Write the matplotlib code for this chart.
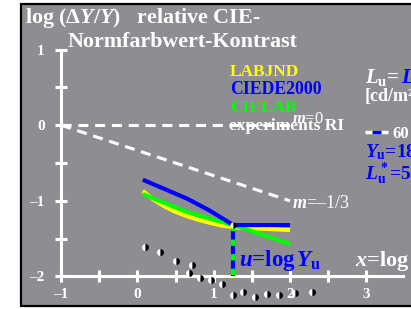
import numpy as np
import matplotlib
matplotlib.use('Agg')
import matplotlib.pyplot as plt
from matplotlib.patches import Rectangle

# ---------------- data ----------------
xticks = [-1, -0.5, 0, 0.5, 1, 1.5, 2, 2.5, 3]
xticklabels = ['–1', '', '0', '', '1', '', '2', '', '3']
yticks = [-2, -1.5, -1, -0.5, 0, 0.5, 1]
yticklabels = ['–2', '', '–1', '', '0', '', '1']

Y_u = 18
u_val = np.log10(Y_u)

labjnd_x = [0.07, 0.2, 0.34, 0.5, 0.645, 0.8, 0.95, 1.1, 1.255, 2.0]
labjnd_y = [-0.87, -0.975, -1.065, -1.145, -1.2, -1.25, -1.29, -1.325, -1.35, -1.385]
ciede_x = [0.07, 0.36, 0.65, 0.95, 1.255, 2.0]
ciede_y = [-0.72, -0.845, -0.97, -1.13, -1.32, -1.32]
cielab_x = [0.07, 0.36, 0.645, 0.95, 1.255, 2.0]
cielab_y = [-0.91, -1.03, -1.145, -1.235, -1.32, -1.57]

exp_x = [0.098, 0.295, 0.505, 0.710, 0.679, 0.819, 0.963, 1.111,
         1.248, 1.387, 1.540, 1.693, 1.858, 2.064, 2.283]
exp_y = [-1.614, -1.672, -1.791, -1.848, -1.950, -2.024, -2.046, -2.099,
         -2.245, -2.201, -2.267, -2.235, -2.245, -2.222, -2.201]

ref_x = [-1, 2]
slopes = [0, -1/3]

GRAY = '#8e8e92'

plt.rcParams['font.family'] = ['Liberation Serif', 'DejaVu Serif']
plt.rcParams['font.weight'] = 'bold'
plt.rcParams['mathtext.fontset'] = 'custom'
plt.rcParams['mathtext.rm'] = 'Liberation Serif:bold'
plt.rcParams['mathtext.it'] = 'Liberation Serif:italic:bold'
plt.rcParams['mathtext.bf'] = 'Liberation Serif:bold'

W, H = 411, 309
fig = plt.figure(figsize=(W / 100, H / 100), dpi=100, facecolor='white')
ax = fig.add_axes([0, 0, 1, 1])
ax.set_facecolor('none')
ax.set_xlim(-1.802, 3.585)
ax.set_ylim(-2.430, 1.657)


def P(x, y):
    return (x / W, 1 - y / H)


# frame
ax.add_patch(Rectangle(P(21, 306), 1.2, (306 - 4) / H, transform=ax.transAxes,
                       facecolor=GRAY, edgecolor='black', lw=1.6, zorder=0,
                       clip_on=False))

# axes spines
for s in ['top', 'right']:
    ax.spines[s].set_visible(False)
ax.spines['left'].set_position(('data', -1))
ax.spines['left'].set_bounds(-2, 1)
ax.spines['bottom'].set_position(('data', -2))
ax.spines['bottom'].set_bounds(-1, 3.48)
for s in ['left', 'bottom']:
    ax.spines[s].set_color('white')
    ax.spines[s].set_linewidth(2.2)
    ax.spines[s].set_zorder(3)
ax.set_xticks(xticks)
ax.set_xticklabels(xticklabels)
ax.set_yticks(yticks)
ax.set_yticklabels(yticklabels)
ax.tick_params(axis='both', direction='inout', length=8, width=2.2,
               color='white', labelcolor='white', labelsize=11)
ax.tick_params(axis='x', pad=4)
ax.tick_params(axis='y', pad=8)

# reference dashed lines
for m in slopes:
    ry = [m * (x - ref_x[0]) for x in ref_x]
    ax.plot(ref_x, ry, color='white', lw=2.2, ls=(0, (3.3, 2.2)), zorder=2)

# colored curves
ax.plot(labjnd_x, labjnd_y, color='#ffff00', lw=3, zorder=4, solid_capstyle='butt')
ax.plot(cielab_x, cielab_y, color='#00ff00', lw=3, zorder=5, solid_capstyle='butt')
ax.plot(ciede_x, ciede_y, color='#0000ff', lw=3, zorder=6, solid_capstyle='butt')

# vertical u line
ax.plot([u_val, u_val], [ciede_y[4], -2], color='#0000ff', lw=3, zorder=6,
        solid_capstyle='butt')
ax.plot([u_val, u_val], [ciede_y[4], -2], color='#00ff00', lw=3, zorder=7,
        ls=(0, (1.5, 2.0)))
ax.plot([u_val], [ciede_y[4]], marker='o', ms=4.5, fillstyle='left',
        markerfacecolor='white', markerfacecoloralt='black',
        markeredgecolor='none', zorder=8)

# experiment points
ax.plot(exp_x, exp_y, ls='none', marker='o', ms=5, fillstyle='left',
        markerfacecolor='white', markerfacecoloralt='black',
        markeredgecolor='none', zorder=8, clip_on=False)

T = ax.transAxes
# titles
ax.text(*P(25, 23), r'log $(\Delta Y/Y)$   relative CIE-', transform=T,
        color='white', fontsize=15.8, va='baseline', ha='left')
ax.text(*P(68, 47), 'Normfarbwert-Kontrast', transform=T,
        color='white', fontsize=15.8, va='baseline', ha='left')

# legend texts
ax.text(*P(230, 76), 'LABJND', transform=T, color='#ffff00', fontsize=12.5,
        va='baseline')
ax.text(*P(230, 94), 'CIEDE2000', transform=T, color='#0000ff', fontsize=12.8,
        va='baseline')
ax.text(*P(230, 112), 'CIELAB', transform=T, color='#00ff00', fontsize=12.5,
        va='baseline')
ax.text(*P(229, 130), 'experiments RI', transform=T, color='white',
        fontsize=12.5, va='baseline', zorder=9)

ax.text(*P(292, 123), r'$m$=0', transform=T, color='white', fontsize=12,
        va='baseline', fontweight='normal', zorder=9)
ax.text(*P(292, 208), r'$m$=–1/3', transform=T, color='white', fontsize=13,
        va='baseline', fontweight='normal')

# right side texts
ax.text(*P(365, 83), r'$L_\mathrm{u}$=', transform=T, color='white',
        fontsize=15, va='baseline')
ax.text(*P(401, 83), r'$L$', transform=T, color='#0000ff',
        fontsize=15, va='baseline')
ax.text(*P(365, 101), '[cd/m²]', transform=T, color='white',
        fontsize=13, va='baseline')
ax.plot([0.888, 0.944], [1 - 131.5 / H] * 2, color='white', lw=2.5,
        transform=T, solid_capstyle='butt')
ax.plot([0.905, 0.927], [1 - 131.5 / H] * 2, color='#0000ff', lw=2.5,
        transform=T, solid_capstyle='butt')
ax.text(*P(392, 138), '60', transform=T, color='white', fontsize=12,
        va='baseline')
ax.text(*P(365, 157), r'$Y_\mathrm{u}$=%d' % Y_u, transform=T, color='#0000ff',
        fontsize=14, va='baseline')
ax.text(*P(365, 180), r'$L^*_\mathrm{u}$=50', transform=T, color='#0000ff',
        fontsize=14, va='baseline')

ax.text(*P(239, 266), r'$u$=log$\,Y_\mathrm{u}$', transform=T, color='#0000ff',
        fontsize=16.5, va='baseline')
ax.text(*P(355, 266), r'$x$=log', transform=T, color='white',
        fontsize=16, va='baseline')

fig.savefig('out.png', dpi=100, facecolor='white')
